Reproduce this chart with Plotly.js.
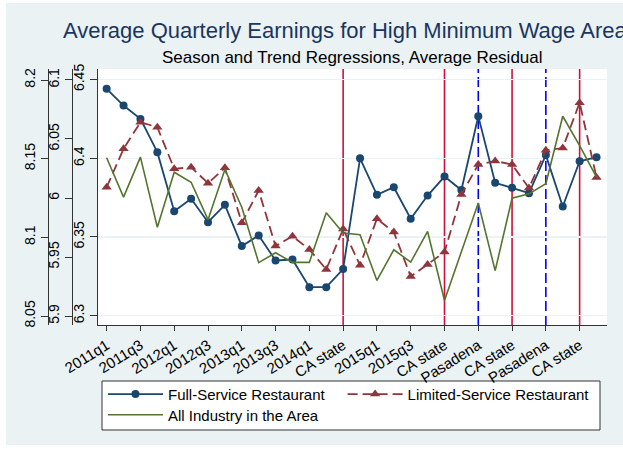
<!DOCTYPE html>
<html>
<head>
<meta charset="utf-8">
<script src="https://cdn.plot.ly/plotly-3.0.1.min.js"></script>
<style>
  html, body { margin: 0; padding: 0; background: #ffffff; }
  #chart { position: absolute; left: 6px; top: 3px; width: 617px; height: 442px; }
</style>
</head>
<body>
<div id="chart"></div>
<script>
// ---- data ----
const quarters = ['2011q1','2011q2','2011q3','2011q4','2012q1','2012q2','2012q3','2012q4',
  '2013q1','2013q2','2013q3','2013q4','2014q1','2014q2','2014q3','2014q4',
  '2015q1','2015q2','2015q3','2015q4','2016q1','2016q2','2016q3','2016q4',
  '2017q1','2017q2','2017q3','2017q4','2018q1','2018q2'];

const fullService = [6.4441, 6.4335, 6.4250, 6.4039, 6.3664, 6.3743, 6.3594, 6.3704, 6.3442, 6.3510,
  6.3351, 6.3357, 6.3181, 6.3181, 6.3296, 6.4000, 6.3768, 6.3816, 6.3616, 6.3763,
  6.3884, 6.3798, 6.4267, 6.3844, 6.3812, 6.3778, 6.4020, 6.3694, 6.3981, 6.4007];

const limitedService = [6.3816, 6.4060, 6.4229, 6.4197, 6.3933, 6.3943, 6.3842, 6.3939, 6.3590, 6.3795,
  6.3442, 6.3505, 6.3421, 6.3294, 6.3550, 6.3320, 6.3616, 6.3531, 6.3249, 6.3326,
  6.3404, 6.3770, 6.3960, 6.3983, 6.3960, 6.3811, 6.4051, 6.4065, 6.4353, 6.3878];

const allIndustry = [6.4003, 6.3753, 6.4007, 6.3562, 6.3911, 6.3848, 6.3610, 6.3929, 6.3689, 6.3337,
  6.3400, 6.3339, 6.3339, 6.3654, 6.3525, 6.3514, 6.3224, 6.3419, 6.3340, 6.3535,
  6.3097, 6.3400, 6.3716, 6.3286, 6.3746, 6.3774, 6.3838, 6.4267, 6.4080, 6.3880];

const xTickVals = ['2011q1','2011q3','2012q1','2012q3','2013q1','2013q3','2014q1','2014q3',
  '2015q1','2015q3','2016q1','2016q3','2017q1','2017q3','2018q1'];
const xTickText = ['2011q1','2011q3','2012q1','2012q3','2013q1','2013q3','2014q1','CA state',
  '2015q1','2015q3','CA state','Pasadena','CA state','Pasadena','CA state'];

const caStateDates = ['2014q3','2016q1','2017q1','2018q1'];
const pasadenaDates = ['2016q3','2017q3'];

const yTicksMain = [6.3, 6.35, 6.4, 6.45];
const yTicksMid = [5.9, 5.95, 6, 6.05, 6.1];
const yTicksOuter = [8.05, 8.1, 8.15, 8.2];

const seriesNames = ['Full-Service Restaurant', 'Limited-Service Restaurant', 'All Industry in the Area'];

// ---- chart ----
const FONT = 'Liberation Sans, Arial, Helvetica, sans-serif';
const W = 601, PB = 322, PH = 256;           // paper width, plot bottom, plot height (div px)
const px = v => v / W;                        // div x -> paper x
const py = v => (PB - v) / PH;                // div y -> paper y

const traces = [
  { x: quarters, y: fullService, name: seriesNames[0], type: 'scatter', mode: 'lines+markers',
    legend: 'legend',
    line: { color: '#1a476f', width: 1.8 },
    marker: { color: '#1a476f', size: 8, symbol: 'circle' } },
  { x: quarters, y: limitedService, name: seriesNames[1], type: 'scatter', mode: 'lines+markers',
    legend: 'legend2',
    line: { color: '#90353b', width: 1.8, dash: '10px,5px' },
    marker: { color: '#90353b', size: 9, symbol: 'triangle-up' } },
  { x: quarters, y: allIndustry, name: seriesNames[2], type: 'scatter', mode: 'lines',
    legend: 'legend3',
    line: { color: '#55752f', width: 1.6 } },
  // empty helper traces so the two extra left-hand axes are drawn
  { x: [], y: [], yaxis: 'y2', type: 'scatter', mode: 'lines', showlegend: false, hoverinfo: 'skip' },
  { x: [], y: [], yaxis: 'y3', type: 'scatter', mode: 'lines', showlegend: false, hoverinfo: 'skip' }
];

const shapes = [];
caStateDates.forEach(d => shapes.push({ type: 'line', xref: 'x', yref: 'paper', x0: d, x1: d, y0: 0, y1: 1,
  layer: 'below', line: { color: '#d0103a', width: 1.6 } }));
pasadenaDates.forEach(d => shapes.push({ type: 'line', xref: 'x', yref: 'paper', x0: d, x1: d, y0: 0, y1: 1,
  layer: 'below', line: { color: '#0000ff', width: 1.6, dash: '10px,4px' } }));
// legend frame
shapes.push({ type: 'rect', xref: 'paper', yref: 'paper', x0: px(96), x1: px(594), y0: py(427), y1: py(378),
  layer: 'below', fillcolor: '#ffffff', line: { color: '#333', width: 1 } });

function yAx(ticks, extra) {
  return Object.assign({
    tickmode: 'array', tickvals: ticks, ticktext: ticks.map(v => String(v)),
    tickangle: -90, ticks: 'outside', ticklen: 7, tickcolor: '#333', tickwidth: 1,
    showline: true, linecolor: '#333', linewidth: 1, zeroline: false,
    tickfont: { size: 14, color: '#000', family: FONT }, automargin: false, fixedrange: true
  }, extra);
}

function leg(xDiv, yDiv) {
  return { orientation: 'v', x: px(xDiv), xanchor: 'left', y: py(yDiv), yanchor: 'middle',
    bgcolor: 'rgba(0,0,0,0)', borderwidth: 0, font: { size: 15, family: FONT, color: '#000' },
    itemwidth: 55 };
}

const layout = {
  width: 617, height: 442,
  margin: { l: 0, r: 16, t: 66, b: 120, pad: 0 },
  paper_bgcolor: '#eaf2f3', plot_bgcolor: '#ffffff',
  font: { family: FONT, color: '#000' },
  title: { text: 'Average Quarterly Earnings for High Minimum Wage Area',
    font: { size: 22, color: '#1a3560', family: FONT },
    xref: 'container', x: 57 / 617, xanchor: 'left',
    yref: 'container', y: 1 - 27 / 442, yanchor: 'middle' },
  annotations: [{ text: 'Season and Trend Regressions, Average Residual', xref: 'paper', yref: 'paper',
    x: px(346), y: py(54), xanchor: 'center', yanchor: 'middle', showarrow: false,
    font: { size: 17, color: '#000', family: FONT } }],
  showlegend: true,
  legend: leg(97, 391.3),
  legend2: leg(336.6, 391.3),
  legend3: leg(97, 412),
  xaxis: { type: 'category', domain: [91.7 / W, 1], range: [-0.53, 29.62],
    tickmode: 'array', tickvals: xTickVals, ticktext: xTickText, tickangle: -32,
    ticks: 'outside', ticklen: 5, tickcolor: '#333', showline: true, linecolor: '#333', linewidth: 1,
    showgrid: false, zeroline: false, tickfont: { size: 15, color: '#000', family: FONT },
    automargin: false, fixedrange: true },
  yaxis: yAx(yTicksMain, { range: [6.2941, 6.4567], showgrid: true, gridcolor: '#eaf2f3', gridwidth: 1.5 }),
  yaxis2: yAx(yTicksMid, { range: [5.8924, 6.1093], overlaying: 'y', anchor: 'free', position: 65.7 / W,
    side: 'left', showgrid: false }),
  yaxis3: yAx(yTicksOuter, { range: [8.0443, 8.207], overlaying: 'y', anchor: 'free', position: 41.7 / W,
    side: 'left', showgrid: false }),
  shapes: shapes
};

Plotly.newPlot('chart', traces, layout, { staticPlot: true, displayModeBar: false });
</script>
</body>
</html>
